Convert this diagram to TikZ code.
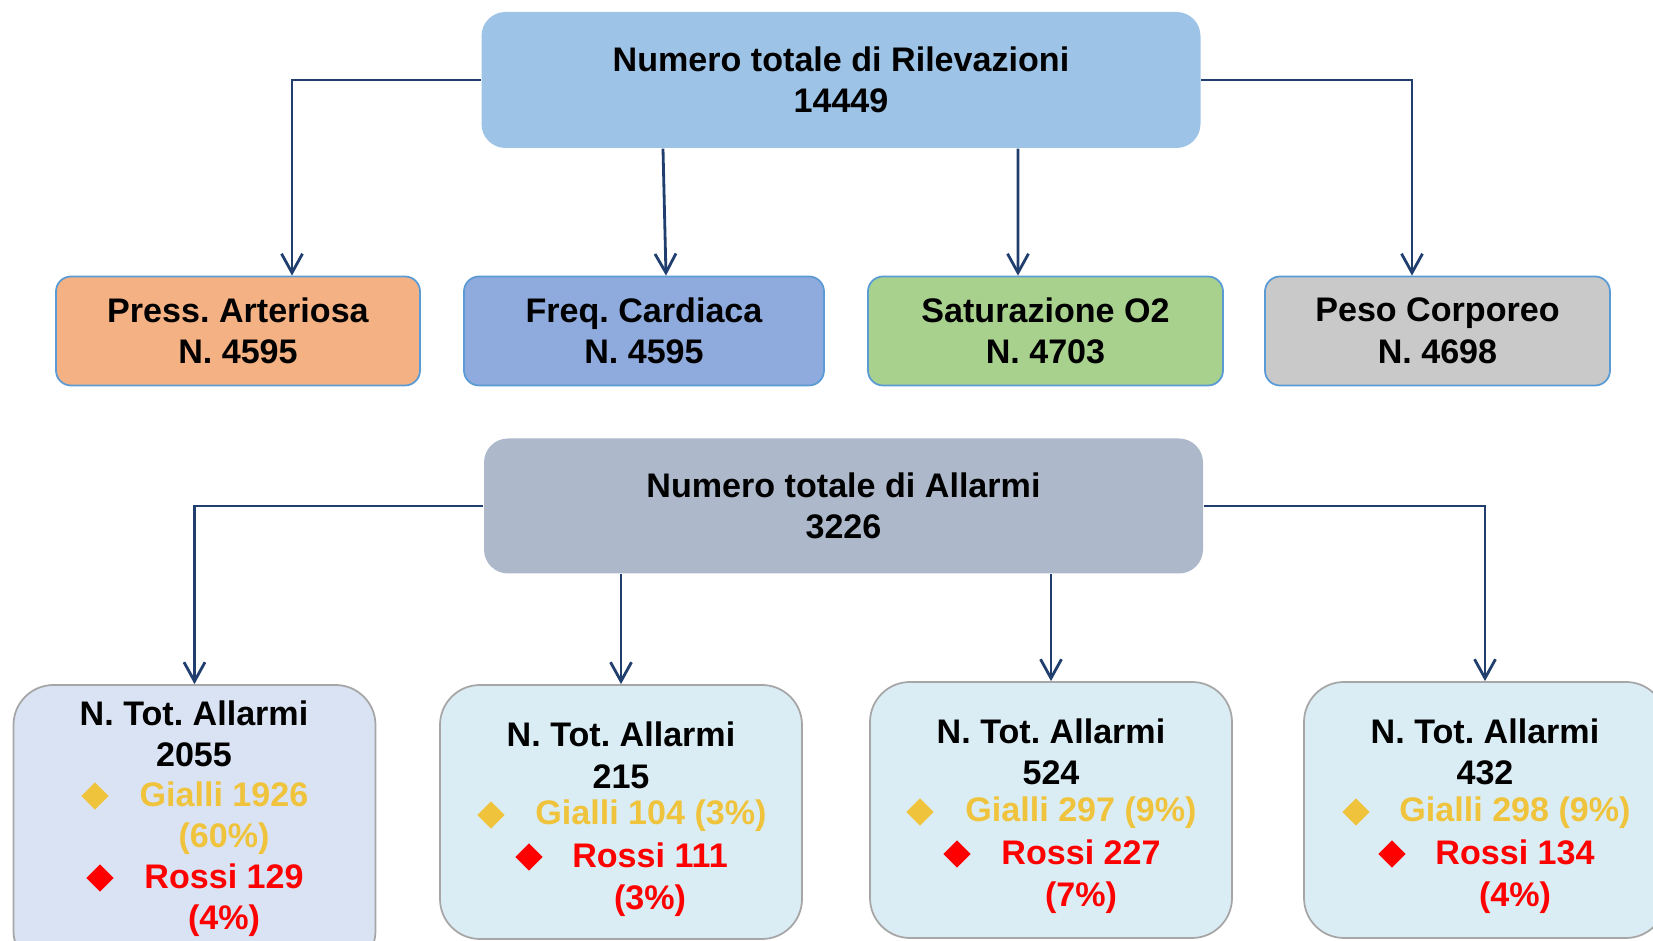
\documentclass[tikz,border=0pt]{standalone}
\usepackage{fontspec}
\setmainfont{Liberation Sans}
\usepackage{tikz}
\usetikzlibrary{positioning,calc,shapes.geometric,arrows.meta}
\frenchspacing

\definecolor{rilevfill}{HTML}{9DC3E6}
\definecolor{pressfill}{HTML}{F4B183}
\definecolor{freqfill}{HTML}{8FAADC}
\definecolor{satfill}{HTML}{A9D18E}
\definecolor{pesofill}{HTML}{C9C9C9}
\definecolor{allarmfill}{HTML}{ADB9CA}
\definecolor{tot1fill}{HTML}{DAE3F3}
\definecolor{totfill}{HTML}{DBEDF4}
\definecolor{boxline}{HTML}{5B9BD5}
\definecolor{greyline}{HTML}{A6A6A6}
\definecolor{connblue}{HTML}{203F6E}
\definecolor{giallo}{HTML}{F0C33C}
\definecolor{rosso}{HTML}{FF0000}

\begin{document}
\begin{tikzpicture}[x=1cm,y=1cm,font={\fontsize{9.7}{11.8}\selectfont\bfseries}]
\tikzstyle{head}=[rectangle,rounded corners=0.24cm,minimum width=7.19cm,minimum height=1.36cm,align=center,inner sep=0pt]
\tikzstyle{param}=[rectangle,rounded corners=0.15cm,draw=boxline,line width=0.5pt,minimum height=1.09cm,align=center,inner sep=0pt]
\tikzstyle{totbox}=[rectangle,rounded corners=0.4cm,draw=greyline,line width=0.5pt,minimum width=3.62cm,fill=totfill]
\tikzstyle{txt}=[align=center,inner sep=0pt]
\tikzstyle{gtxt}=[txt,text=giallo]
\tikzstyle{rtxt}=[txt,text=rosso]
\tikzstyle{gdot}=[diamond,fill=giallo,inner sep=0pt,minimum size=0.28cm]
\tikzstyle{rdot}=[diamond,fill=rosso,inner sep=0pt,minimum size=0.28cm]
\tikzstyle{conn}=[draw=connblue,line width=0.8pt,-{Straight Barb[length=0.19cm,width=0.21cm]}]

\clip (0,0) rectangle (16.53,9.41);

% rilevazioni
\node[head,fill=rilevfill] (rilev) at (8.41,8.61) {Numero totale di Rilevazioni\\14449};
\node[param,fill=pressfill,minimum width=3.64cm] (press) at (2.38,6.10) {Press. Arteriosa\\N. 4595};
\node[param,fill=freqfill,minimum width=3.60cm] (freq) at (6.44,6.10) {Freq. Cardiaca\\N. 4595};
\node[param,fill=satfill,minimum width=3.55cm] (sat) at (10.455,6.10) {Saturazione O2\\N. 4703};
\node[param,fill=pesofill,minimum width=3.45cm] (peso) at (14.375,6.10) {Peso Corporeo\\N. 4698};

\draw[conn] (rilev.west) -| ([xshift=0.54cm]press.north);
\draw[conn] ([xshift=-1.78cm]rilev.south) -- ([xshift=0.22cm]freq.north);
\draw[conn] ([xshift=1.77cm]rilev.south) -- ([xshift=-0.275cm]sat.north);
\draw[conn] (rilev.east) -| ([xshift=-0.255cm]peso.north);

% allarmi
\node[head,fill=allarmfill,minimum height=1.35cm] (allarm) at (8.435,4.35) {Numero totale di Allarmi\\3226};
\node[totbox,fill=tot1fill,minimum height=2.86cm] (tot1) at (1.945,1.13) {};
\node[totbox,minimum height=2.54cm] (tot2) at (6.21,1.29) {};
\node[totbox,minimum height=2.56cm] (tot3) at (10.51,1.31) {};
\node[totbox,minimum height=2.56cm] (tot4) at (14.85,1.31) {};

\draw[conn] (allarm.west) -| (tot1.north);
\draw[conn] (allarm.south -| tot2.north) -- (tot2.north);
\draw[conn] (allarm.south -| tot3.north) -- (tot3.north);
\draw[conn] (allarm.east) -| (tot4.north);

\node[txt] (tit1) at (1.94,2.07) {N. Tot. Allarmi\\2055};
\node[gtxt] (gial1) at (2.24,1.23) {Gialli 1926\\(60\%)};
\node[rtxt] (ross1) at (2.24,0.41) {Rossi 129\\(4\%)};
\node[gdot] (gd1) at (0.95,1.45) {};
\node[rdot] (rd1) at (1.00,0.63) {};

\node[txt] (tit2) at (6.21,1.855) {N. Tot. Allarmi\\215};
\node[gtxt] (gial2) at (6.51,1.25) {Gialli 104 (3\%)};
\node[rtxt] (ross2) at (6.50,0.615) {Rossi 111\\(3\%)};
\node[gdot] (gd2) at (4.91,1.26) {};
\node[rdot] (rd2) at (5.29,0.84) {};

\node[txt] (tit3) at (10.51,1.89) {N. Tot. Allarmi\\524};
\node[gtxt] (gial3) at (10.81,1.28) {Gialli 297 (9\%)};
\node[rtxt] (ross3) at (10.81,0.645) {Rossi 227\\(7\%)};
\node[gdot] (gd3) at (9.20,1.29) {};
\node[rdot] (rd3) at (9.57,0.87) {};

\node[txt] (tit4) at (14.85,1.89) {N. Tot. Allarmi\\432};
\node[gtxt] (gial4) at (15.15,1.28) {Gialli 298 (9\%)};
\node[rtxt] (ross4) at (15.15,0.645) {Rossi 134\\(4\%)};
\node[gdot] (gd4) at (13.56,1.29) {};
\node[rdot] (rd4) at (13.92,0.87) {};

\end{tikzpicture}
\end{document}
